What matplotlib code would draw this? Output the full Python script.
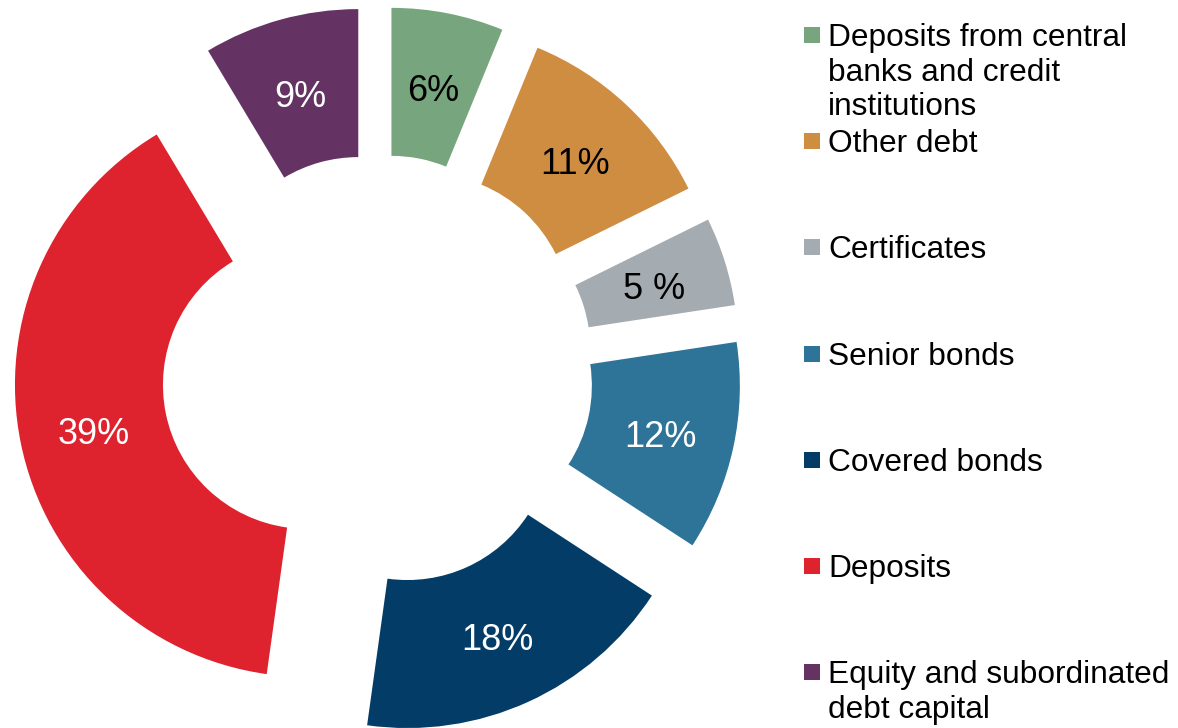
import matplotlib.pyplot as plt
from matplotlib.patches import Rectangle
import numpy as np

plt.rcParams['font.family'] = ['Liberation Sans', 'DejaVu Sans']

# Funding mix, clockwise from 12 o'clock
categories = ["Deposits from central\nbanks and credit\ninstitutions",
              "Other debt",
              "Certificates",
              "Senior bonds",
              "Covered bonds",
              "Deposits",
              "Equity and subordinated\ndebt capital"]
shares = [6.2, 11.5, 4.9, 11.6, 18.0, 39.2, 8.6]
pct_labels = ["6%", "11%", "5 %", "12%", "18%", "39%", "9%"]
colors = ["#77A57D", "#CF8D42", "#A4ABB1", "#2E7499", "#033C67", "#DE232F", "#643364"]
label_colors = ["black", "black", "black", "white", "white", "white", "white"]

W, H = 1178, 728
fig = plt.figure(figsize=(W / 100, H / 100), dpi=100)
ax = fig.add_axes([0, 0, 1, 1])

# work in pixel-like units so the donut sits where it should
R = 292
ring = 148
gap = 72
center = (377.5, H - 370.5)

wedges, _ = ax.pie(shares, colors=colors, startangle=90, counterclock=False,
                   radius=R, center=center, explode=[gap] * len(shares),
                   wedgeprops=dict(width=ring, linewidth=0))

# percentage labels in the middle of each ring segment
for w, txt, tc in zip(wedges, pct_labels, label_colors):
    ang = np.deg2rad((w.theta1 + w.theta2) / 2)
    rm = w.r - w.width / 2
    x = w.center[0] + rm * np.cos(ang)
    y = w.center[1] + rm * np.sin(ang) - 6
    ax.text(x, y, txt, ha='center', va='center', fontsize=26, color=tc)

# legend on the right, one entry per category
for i, (lab, col) in enumerate(zip(categories, colors)):
    yc = H - (35 + i * 106.2)
    ax.add_patch(Rectangle((804, yc - 8), 16, 16, color=col, lw=0))
    ax.text(828, yc + 12, lab, ha='left', va='top', fontsize=22.8,
            linespacing=1.2, color='black')

ax.set_xlim(0, W)
ax.set_ylim(0, H)
ax.set_aspect('auto')
ax.axis('off')

plt.savefig("out.png", dpi=100)
